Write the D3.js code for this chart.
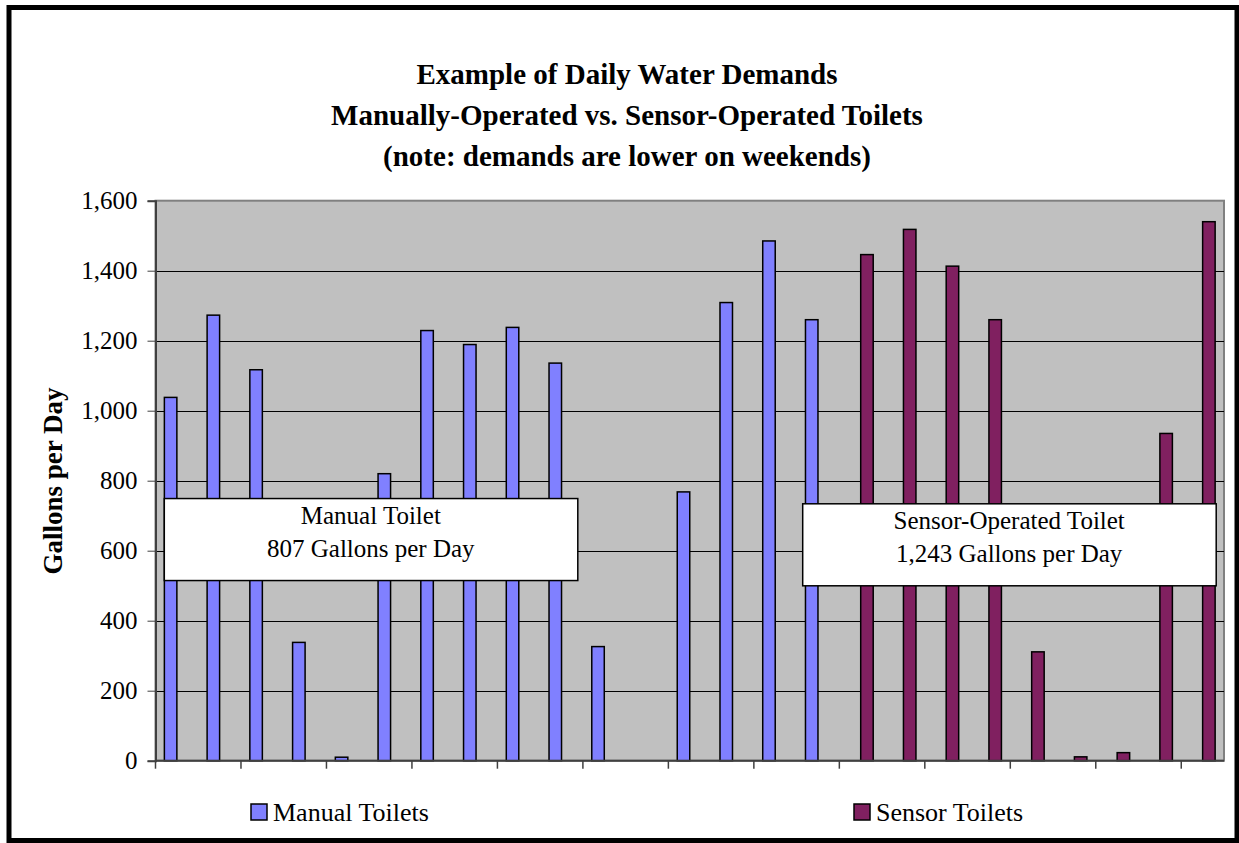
<!DOCTYPE html>
<html>
<head>
<meta charset="utf-8">
<script src="https://cdn.jsdelivr.net/npm/d3@7"></script>
<style>
  body { margin: 0; background: #fff; }
  svg text { font-family: "Liberation Serif", "Times New Roman", serif; fill: #000; }
</style>
</head>
<body>
<div id="chart"></div>
<script>
// one entry per day, 25 days
var days = d3.range(1, 26);
var manualToilets = [1038, 1273, 1117, 338, 10, 820, 1229, 1189, 1238, 1136, 326, null, 768, 1309, 1485, 1260,
	null, null, null, null, null, null, null, null, null];
var sensorToilets = [null, null, null, null, null, null, null, null, null, null, null, null, null, null, null, null,
	1446, 1518, 1413, 1260, 311, 11, 23, 935, 1540];
var seriesNames = ["Manual Toilets", "Sensor Toilets"];
var seriesColors = ["#8080FF", "#802060"];
var yTicks = [0, 200, 400, 600, 800, 1000, 1200, 1400, 1600];
var titleLines = ["Example of Daily Water Demands", "Manually-Operated vs. Sensor-Operated Toilets", "(note: demands are lower on weekends)"];
var noteBoxes = [
	{lines: ["Manual Toilet", "807 Gallons per Day"], x0: 164.3, y: 749},
	{lines: ["Sensor-Operated Toilet", "1,243 Gallons per Day"], x0: 802.7, y: 734}
];

var width = 1239, height = 843;
var plotL = 155.5, plotR = 1224, plotT = 200.7, plotB = 760.7;

var svg = d3.select("#chart")
	.append("svg")
	.attr("width", width)
	.attr("height", height);

// outer frame
svg.append("rect")
	.attr("x", 9).attr("y", 7.5)
	.attr("width", 1228).attr("height", 833)
	.attr("fill", "#fff")
	.attr("stroke", "#000")
	.attr("stroke-width", 5);

var x = d3.scaleBand()
	.domain(days)
	.range([plotL, plotR])
	.padding(0);

var bw = x.bandwidth();
var xs = d3.scaleBand()
	.domain(seriesNames)
	.range([bw / 2 - 12.5, bw / 2 + 12.5]);

var y = d3.scaleLinear()
	.domain([0, 1600])
	.range([plotB, plotT]);

// plot background
svg.append("rect")
	.attr("x", plotL).attr("y", plotT)
	.attr("width", plotR - plotL).attr("height", plotB - plotT)
	.attr("fill", "#C0C0C0")
	.attr("stroke", "#808080")
	.attr("stroke-width", 2);

// gridlines
svg.append("g")
	.selectAll("line")
	.data(yTicks.filter(function(d) { return d > 0 && d < 1600; }))
	.enter()
	.append("line")
		.attr("x1", plotL).attr("x2", plotR)
		.attr("y1", function(d) { return Math.round(y(d)) + 0.5; })
		.attr("y2", function(d) { return Math.round(y(d)) + 0.5; })
		.attr("stroke", "#000")
		.attr("stroke-width", 1);

// bars
var series = [manualToilets, sensorToilets];
series.forEach(function(vals, si) {
	svg.append("g")
		.selectAll("rect")
		.data(vals.map(function(v, i) { return {day: days[i], v: v}; }).filter(function(d) { return d.v != null; }))
		.enter()
		.append("rect")
			.attr("x", function(d) { return x(d.day) + xs(seriesNames[si]); })
			.attr("y", function(d) { return y(d.v); })
			.attr("width", xs.bandwidth())
			.attr("height", function(d) { return plotB - y(d.v); })
			.attr("fill", seriesColors[si])
			.attr("stroke", "#000")
			.attr("stroke-width", 1.5);
});

// y axis
var yAxis = svg.append("g")
	.attr("transform", "translate(" + plotL + ",0)")
	.call(d3.axisLeft(y).tickValues(yTicks).tickSize(8).tickPadding(10).tickFormat(d3.format(",")));
yAxis.select(".domain").attr("stroke", "#404040").attr("stroke-width", 2);
yAxis.selectAll(".tick line").attr("stroke", "#404040");
yAxis.selectAll("text").attr("font-size", 25).attr("font-family", "Liberation Serif").attr("fill", "#000");

// x axis: ticks every second day boundary, no labels
var xTicks = d3.range(0, 25, 2);
var xAxis = svg.append("g");
xAxis.append("line")
	.attr("x1", plotL).attr("x2", plotR)
	.attr("y1", plotB).attr("y2", plotB)
	.attr("stroke", "#404040").attr("stroke-width", 2);
xAxis.selectAll(".xt")
	.data(xTicks)
	.enter()
	.append("line")
		.attr("class", "xt")
		.attr("x1", function(d) { return plotL + d * bw; })
		.attr("x2", function(d) { return plotL + d * bw; })
		.attr("y1", plotB).attr("y2", plotB + 8)
		.attr("stroke", "#404040").attr("stroke-width", 1.5);

// title
svg.append("g")
	.selectAll("text")
	.data(titleLines)
	.enter()
	.append("text")
		.attr("x", 627)
		.attr("y", function(d, i) { return 84 + i * 41; })
		.attr("text-anchor", "middle")
		.attr("font-size", 29)
		.attr("font-weight", "bold")
		.text(function(d) { return d; });

// y axis title
svg.append("text")
	.attr("transform", "translate(62,481) rotate(-90)")
	.attr("text-anchor", "middle")
	.attr("font-size", 27)
	.attr("font-weight", "bold")
	.text("Gallons per Day");

// note boxes
noteBoxes.forEach(function(b) {
	var g = svg.append("g");
	var by = y(b.y);
	g.append("rect")
		.attr("x", b.x0).attr("y", by)
		.attr("width", 413.5).attr("height", 82)
		.attr("fill", "#fff")
		.attr("stroke", "#000")
		.attr("stroke-width", 1.5);
	g.selectAll("text")
		.data(b.lines)
		.enter()
		.append("text")
			.attr("x", b.x0 + 206.5)
			.attr("y", function(d, i) { return by + 25 + i * 33; })
			.attr("text-anchor", "middle")
			.attr("font-size", 25)
			.text(function(d) { return d; });
});

// legend
var legendX = [251, 854];
var legend = svg.append("g")
	.selectAll("g")
	.data(seriesNames)
	.enter()
	.append("g")
		.attr("transform", function(d, i) { return "translate(" + legendX[i] + ",804)"; });
legend.append("rect")
	.attr("width", 16).attr("height", 16)
	.attr("fill", function(d, i) { return seriesColors[i]; })
	.attr("stroke", "#000")
	.attr("stroke-width", 1.5);
legend.append("text")
	.attr("x", 22).attr("y", 17)
	.attr("font-size", 26)
	.text(function(d) { return d; });
</script>
</body>
</html>
